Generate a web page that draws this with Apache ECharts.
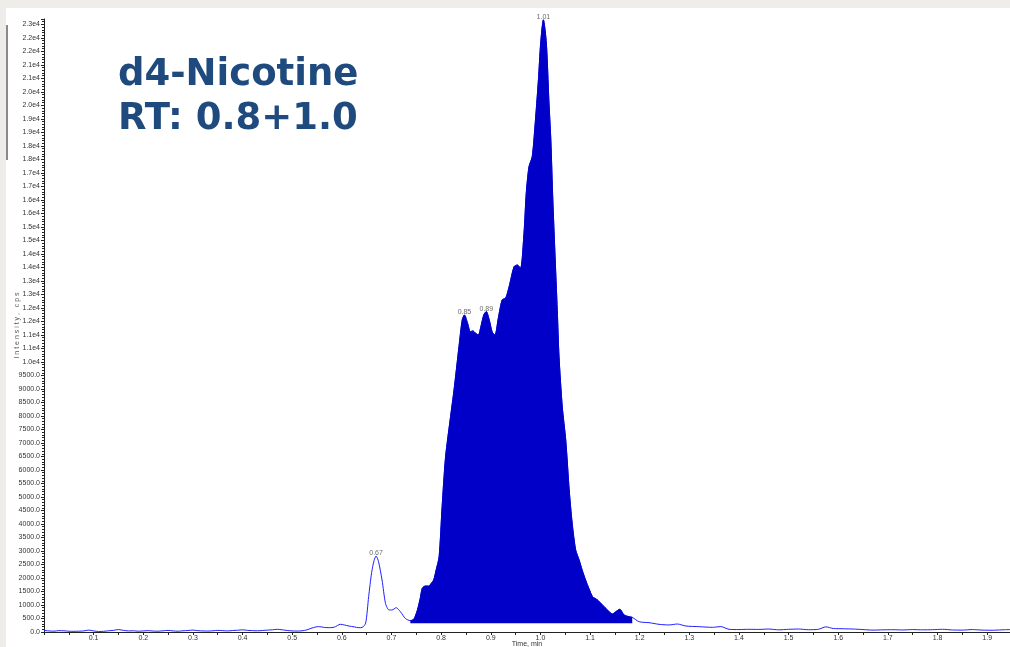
<!DOCTYPE html>
<html>
<head>
<meta charset="utf-8">
<script src="https://cdn.jsdelivr.net/npm/echarts@6/dist/echarts.min.js"></script>
<style>
html,body{margin:0;padding:0;background:#eeedea;}
#chart{width:1010px;height:647px;}
</style>
</head>
<body>
<div id="chart"></div>
<script>
// Retention time (min)
var times = [
0.000,0.010,0.020,0.030,0.040,0.050,0.060,0.070,0.080,0.090,
0.100,0.110,0.120,0.130,0.140,0.150,0.160,0.170,0.180,0.190,
0.200,0.210,0.220,0.230,0.240,0.250,0.260,0.270,0.280,0.290,
0.300,0.310,0.320,0.330,0.340,0.350,0.360,0.370,0.380,0.390,
0.400,0.410,0.420,0.430,0.440,0.450,0.460,0.470,0.480,0.490,
0.500,0.510,0.520,0.530,0.540,0.553,0.565,0.575,0.585,0.597,
0.605,0.614,0.625,0.634,0.641,0.648,0.654,0.660,0.665,0.669,
0.674,0.681,0.688,0.695,0.701,0.7095,0.718,0.728,0.738,0.745,
0.752,0.758,0.762,0.768,0.775,0.780,0.785,0.790,0.796,0.802,
0.809,0.819,0.826,0.836,0.8425,0.847,0.853,0.859,0.864,0.8695,
0.875,0.880,0.886,0.891,0.897,0.903,0.9085,0.915,0.923,0.930,
0.937,0.947,0.9535,0.960,0.967,0.9715,0.977,0.9835,0.989,0.996,
1.0005,1.006,1.012,1.017,1.021,1.025,1.029,1.034,1.0375,1.044,
1.051,1.058,1.064,1.071,1.078,1.084,1.091,1.098,1.105,1.115,
1.125,1.135,1.145,1.152,1.160,1.1685,1.1785,1.185,1.199,1.219,
1.239,1.259,1.276,1.293,1.320,1.347,1.3635,1.380,1.400,1.420,
1.440,1.460,1.480,1.500,1.520,1.540,1.560,1.575,1.590,1.610,
1.630,1.650,1.670,1.690,1.710,1.730,1.750,1.770,1.790,1.810,
1.830,1.850,1.870,1.890,1.910,1.930,1.946
];
// Intensity (cps)
var intensity = [
60,40,30,50,45,30,25,30,40,70,
40,20,25,45,60,90,60,40,45,30,
40,50,35,30,45,60,40,30,45,55,
70,50,40,35,45,60,50,40,55,65,
80,60,50,45,55,70,80,100,80,55,
40,35,45,80,150,200,170,160,180,285,
260,222,190,160,170,330,1310,2200,2650,2815,
2600,1925,1060,815,815,900,750,500,420,470,
800,1250,1618,1700,1700,1800,1925,2300,2790,4640,
6490,7975,8960,10570,11555,11740,11450,11120,11150,11060,
11000,11300,11750,11865,11550,11100,11000,11600,12300,12360,
12790,13530,13590,13470,14780,16250,17230,17600,18715,20440,
21800,22670,21800,19700,18220,16000,14150,11900,10200,8345,
7110,5260,4025,3040,2670,2300,1925,1600,1310,1185,
1000,815,667,753,840,630,567,543,380,345,
284,260,296,222,197,173,200,100,90,100,
95,110,80,100,110,85,100,190,130,120,
110,90,70,80,85,75,90,80,85,100,
75,70,90,70,65,80,90
];
// Integrated peak window and its baseline
var fillStart = 0.738;
var fillEnd = 1.185;
var fillBaseline = 320;
// Labelled apexes
var peakTimes = [0.669, 0.847, 0.891, 1.006];
var peakLabels = ['0.67', '0.85', '0.89', '1.01'];

var lineData = times.map(function (t, i) { return [t, intensity[i]]; });
var fillData = lineData.filter(function (p) { return p[0] >= fillStart - 1e-9 && p[0] <= fillEnd + 1e-9; });
var peakData = peakTimes.map(function (t, k) {
  var i = times.indexOf(t);
  return { value: [t, intensity[i]], name: peakLabels[k] };
});

var chart = echarts.init(document.getElementById('chart'));
var axisFont = { fontFamily: 'Liberation Sans, Arial, sans-serif', fontSize: 7, color: '#333' };
chart.setOption({
  backgroundColor: '#eeedea',
  animation: false,
  graphic: [
    { type: 'rect', z: -10, silent: true, shape: { x: 6, y: 8, width: 1004, height: 639 }, style: { fill: '#ffffff' } },
    { type: 'rect', z: -5, silent: true, shape: { x: 6, y: 25, width: 2, height: 135 }, style: { fill: '#8a8a8a' } }
  ],
  title: {
    text: 'd4-Nicotine\nRT: 0.8+1.0',
    left: 113,
    top: 48,
    textStyle: { fontFamily: 'DejaVu Sans', fontWeight: 'bold', fontSize: 37, lineHeight: 44, color: '#1f4a7e' }
  },
  grid: { left: 44, right: 0, top: 19, bottom: 15, containLabel: false, outerBoundsMode: 'none' },
  xAxis: {
    type: 'value',
    min: 0,
    max: 1.946,
    interval: 0.1,
    name: 'Time, min',
    nameLocation: 'middle',
    nameGap: 9,
    nameMoveOverlap: false,
    nameTextStyle: axisFont,
    axisLine: { show: true, lineStyle: { color: '#222', width: 1 } },
    axisTick: { show: true, length: 3, lineStyle: { color: '#222' } },
    minorTick: { show: true, splitNumber: 2, length: 3, lineStyle: { color: '#222' } },
    axisLabel: Object.assign({ margin: 3, showMinLabel: false, showMaxLabel: false,
      formatter: function (v) { return v.toFixed(1); } }, axisFont),
    splitLine: { show: false }
  },
  yAxis: {
    type: 'value',
    min: 0,
    max: 22700,
    interval: 500,
    name: 'I n t e n s i t y ,   c p s',
    nameLocation: 'middle',
    nameGap: 23,
    nameMoveOverlap: false,
    nameTextStyle: Object.assign({}, axisFont, { color: '#555' }),
    axisLine: { show: true, lineStyle: { color: '#222', width: 1 } },
    axisTick: { show: true, length: 3, lineStyle: { color: '#222' } },
    minorTick: { show: true, splitNumber: 5, length: 2, lineStyle: { color: '#222' } },
    axisLabel: Object.assign({ margin: 4, showMaxLabel: false,
      formatter: function (v) {
        if (v < 10000) return v.toFixed(1);
        return (Math.round(v / 1000) / 10).toFixed(1) + 'e4';
      } }, axisFont),
    splitLine: { show: false }
  },
  series: [
    {
      type: 'line',
      data: lineData,
      showSymbol: false,
      smooth: 0.25,
      lineStyle: { color: '#2020ff', width: 1 },
      z: 2
    },
    {
      type: 'line',
      data: fillData,
      showSymbol: false,
      smooth: 0.25,
      lineStyle: { color: '#0000c8', width: 1 },
      areaStyle: { color: '#0000c8', opacity: 1, origin: fillBaseline },
      z: 3
    },
    {
      type: 'scatter',
      data: peakData,
      symbolSize: 0,
      z: 4,
      label: {
        show: true,
        position: 'top',
        distance: 0,
        offset: [0, 1],
        formatter: function (p) { return p.name; },
        fontFamily: 'Liberation Sans, Arial, sans-serif',
        fontSize: 7,
        color: '#444'
      }
    }
  ]
});
</script>
</body>
</html>
